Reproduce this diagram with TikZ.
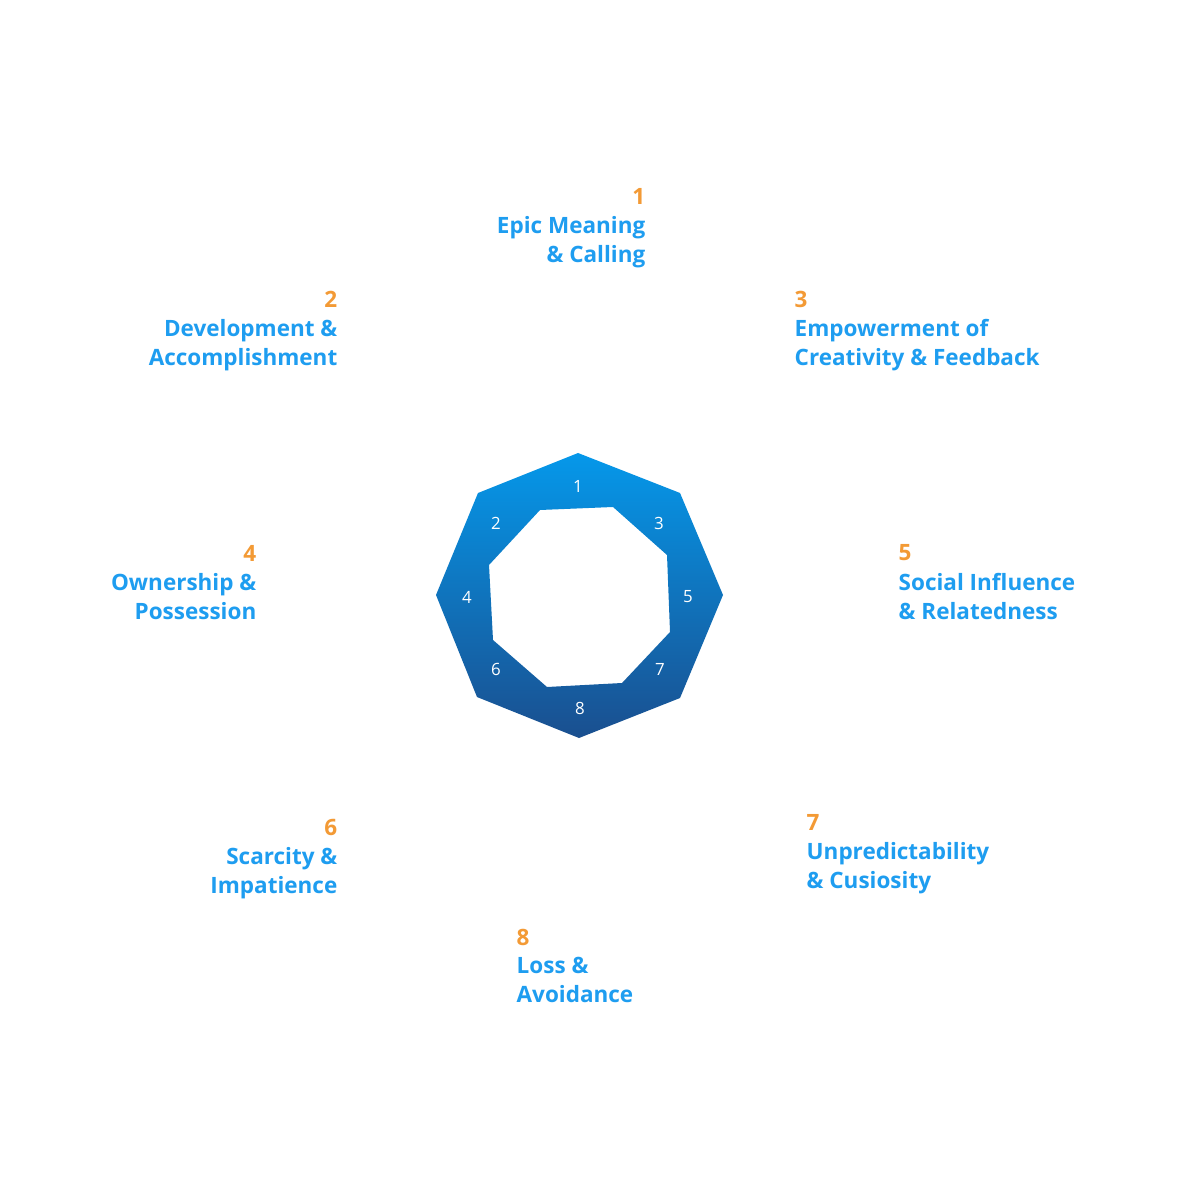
\documentclass[tikz,border=0pt]{standalone}
\usepackage{fontspec}
\setmainfont{Open Sans}
\usetikzlibrary{positioning}
\definecolor{octtop}{HTML}{0598EA}
\definecolor{octbot}{HTML}{1A4F8F}
\definecolor{lblblue}{HTML}{1E9DF0}
\definecolor{numorange}{HTML}{F39A35}

\begin{document}
\begin{tikzpicture}[x=0.1mm, y=-0.1mm, node distance={0.4mm},
    num/.style = {inner sep=0pt, text=numorange, font=\fontsize{6.4}{8.2}\selectfont\bfseries},
    lbl/.style = {inner sep=0pt, text=lblblue, font=\fontsize{6.4}{8.2}\selectfont\bfseries},
    seg/.style = {inner sep=0pt, text=white, font=\fontsize{4.8}{5}\selectfont}]
      \useasboundingbox[fill=white] (0,0) rectangle (1192,1192);
      % ring
      \path[top color=octtop, bottom color=octbot, even odd rule]
        (578,453) -- (680,493) -- (723,595) -- (680,698) -- (579,738)
        -- (477,697) -- (436,595) -- (478,493) -- cycle
        (540,510) -- (613,507) -- (667,555) -- (670,632) -- (622,683)
        -- (547,687) -- (493,640) -- (489,565) -- cycle;
      % segment numbers
      \node[seg] (s1) at (578,486) {1};
      \node[seg] (s2) at (496,523) {2};
      \node[seg] (s3) at (659,523) {3};
      \node[seg] (s4) at (467,597) {4};
      \node[seg] (s5) at (688,597) {5};
      \node[seg] (s6) at (496,669) {6};
      \node[seg] (s7) at (660,669) {7};
      \node[seg] (s8) at (580,708) {8};
      % labels
      \node[num, anchor=east] (n1) at (646,196) {1};
      \node[lbl, align=right, below left=1.1mm and 0mm of n1.south east] (l1) {Epic Meaning\\\& Calling};
      \node[num, anchor=east] (n2) at (338,299) {2};
      \node[lbl, align=right, below left=1.1mm and 0mm of n2.south east] (l2) {Development \&\\Accomplishment};
      \node[num, anchor=west] (n3) at (794,299) {3};
      \node[lbl, align=left, below right=1.1mm and 0mm of n3.south west] (l3) {Empowerment of\\Creativity \& Feedback};
      \node[num, anchor=east] (n4) at (257,553) {4};
      \node[lbl, align=right, below left=1.1mm and 0mm of n4.south east] (l4) {Ownership \&\\Possession};
      \node[num, anchor=west] (n5) at (898,553) {5};
      \node[lbl, align=left, below right=1.1mm and 0mm of n5.south west] (l5) {Social Influence\\\& Relatedness};
      \node[num, anchor=east] (n6) at (338,827) {6};
      \node[lbl, align=right, below left=1.1mm and 0mm of n6.south east] (l6) {Scarcity \&\\Impatience};
      \node[num, anchor=west] (n7) at (806,822) {7};
      \node[lbl, align=left, below right=1.1mm and 0mm of n7.south west] (l7) {Unpredictability\\\& Cusiosity};
      \node[num, anchor=west] (n8) at (516,937) {8};
      \node[lbl, align=left, below right=1.1mm and 0mm of n8.south west] (l8) {Loss \&\\Avoidance};
\end{tikzpicture}
\end{document}
